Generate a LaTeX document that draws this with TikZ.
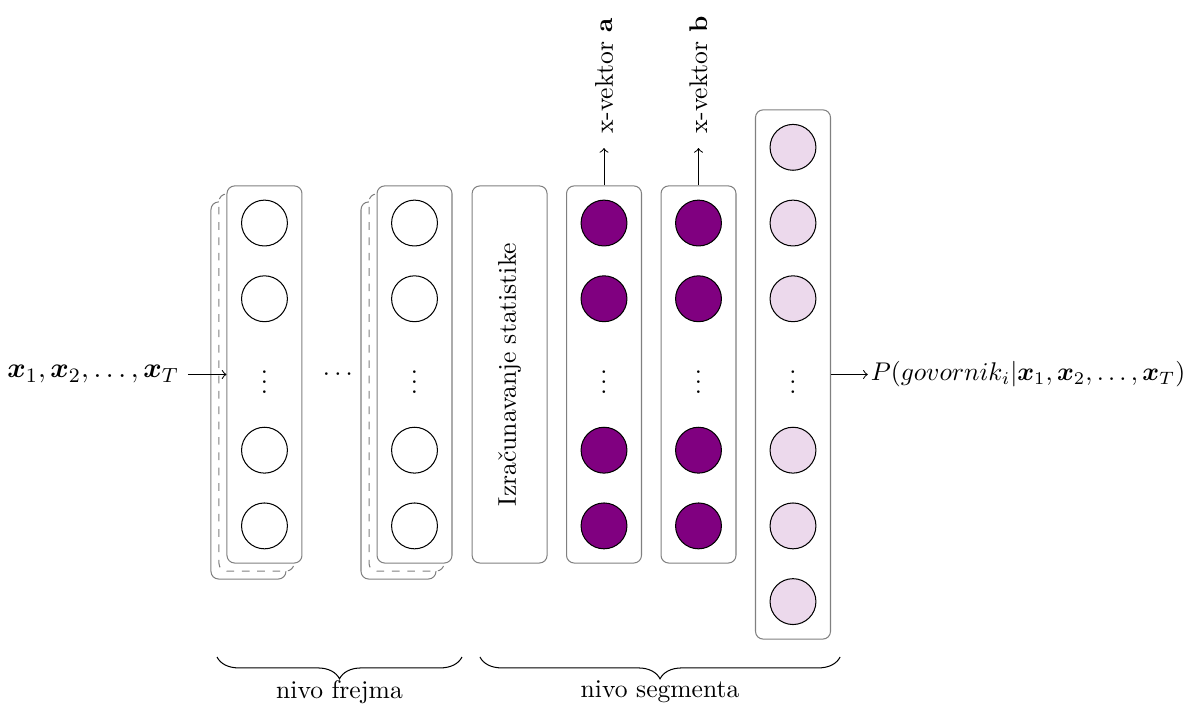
\documentclass[tikz,border=0pt]{standalone}
\usepackage{amsmath}
\usetikzlibrary{decorations.pathreplacing}
\definecolor{xvpurple}{RGB}{128,0,128}

\begin{document}
\begin{tikzpicture}[
  layer/.style={draw=gray, fill=white, rounded corners=3pt, minimum width=1.03cm, minimum height=5.18cm},
  neuron/.style={draw, circle, minimum size=0.63cm, inner sep=0pt},
  hidden/.style={neuron, fill=xvpurple},
  outn/.style={neuron, fill=xvpurple!15},
  formula/.style={font=\fontsize{10.8}{13}\selectfont}]
\useasboundingbox (0,-4.526) rectangle (16.484,5.144);

% nivo frejma
\node[layer] (f1c) at (3.413,-0.22) {};
\node[layer, dashed] (f1b) at (3.523,-0.11) {};
\node[layer] (f1) at (3.633,0) {};
\node[neuron] (f1n1) at (3.633,2.08) {};
\node[neuron] (f1n2) at (3.633,1.04) {};
\node (f1d) at (3.633,0) {$\vdots$};
\node[neuron] (f1n3) at (3.633,-1.04) {};
\node[neuron] (f1n4) at (3.633,-2.08) {};

\node (mid) at (4.67,0) {$\cdots$};

\node[layer] (f2c) at (5.474,-0.22) {};
\node[layer, dashed] (f2b) at (5.584,-0.11) {};
\node[layer] (f2) at (5.694,0) {};
\node[neuron] (f2n1) at (5.694,2.08) {};
\node[neuron] (f2n2) at (5.694,1.04) {};
\node (f2d) at (5.694,0) {$\vdots$};
\node[neuron] (f2n3) at (5.694,-1.04) {};
\node[neuron] (f2n4) at (5.694,-2.08) {};

% nivo segmenta
\node[layer] (s) at (7.0,0) {};
\node[rotate=90] (st) at (7.0,0) {Izračunavanje statistike};

\node[layer] (a) at (8.297,0) {};
\node[hidden] (an1) at (8.297,2.08) {};
\node[hidden] (an2) at (8.297,1.04) {};
\node (ad) at (8.297,0) {$\vdots$};
\node[hidden] (an3) at (8.297,-1.04) {};
\node[hidden] (an4) at (8.297,-2.08) {};

\node[layer] (b) at (9.595,0) {};
\node[hidden] (bn1) at (9.595,2.08) {};
\node[hidden] (bn2) at (9.595,1.04) {};
\node (bd) at (9.595,0) {$\vdots$};
\node[hidden] (bn3) at (9.595,-1.04) {};
\node[hidden] (bn4) at (9.595,-2.08) {};

\node[layer, minimum height=7.27cm] (o) at (10.893,0) {};
\node[outn] (on1) at (10.893,3.12) {};
\node[outn] (on2) at (10.893,2.08) {};
\node[outn] (on3) at (10.893,1.04) {};
\node (od) at (10.893,0) {$\vdots$};
\node[outn] (on4) at (10.893,-1.04) {};
\node[outn] (on5) at (10.893,-2.08) {};
\node[outn] (on6) at (10.893,-3.12) {};

% x-vektori
\coordinate (ta) at (8.297,3.11);
\node[rotate=90, anchor=west] (va) at (8.297,3.18) {x-vektor \textbf{a}};
\draw[->] (a) -- (ta);
\coordinate (tb) at (9.595,3.11);
\node[rotate=90, anchor=west] (vb) at (9.595,3.18) {x-vektor \textbf{b}};
\draw[->] (b) -- (tb);

% ulaz i izlaz
\node[formula, anchor=east] (in) at (2.58,0) {$\boldsymbol{x}_1, \boldsymbol{x}_2, \ldots, \boldsymbol{x}_T$};
\draw[->] (in) -- (f1);
\node[inner sep=1pt, anchor=west] (out) at (11.92,0) {$P(govornik_i|\boldsymbol{x}_1, \boldsymbol{x}_2, \ldots, \boldsymbol{x}_T)$};
\draw[->] (o) -- (out);

% zagrade
\draw[decorate, decoration={brace, amplitude=0.3cm, mirror}] (2.981,-3.881) -- (6.346,-3.881)
  node[midway, below=0.2cm] (lf) {nivo frejma};
\draw[decorate, decoration={brace, amplitude=0.3cm, mirror}] (6.593,-3.881) -- (11.54,-3.881)
  node[midway, below=0.2cm] (ls) {nivo segmenta};
\end{tikzpicture}
\end{document}
